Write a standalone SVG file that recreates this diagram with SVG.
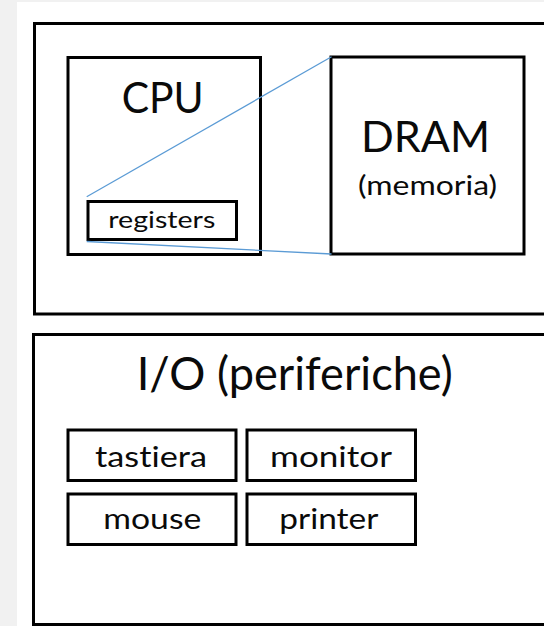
<svg xmlns="http://www.w3.org/2000/svg" width="544" height="626" viewBox="0 0 544 626">
  <style>
    .box { fill: none; stroke: #000; stroke-width: 3; }
    .lbl { font-family: Lato, "Open Sans", "Liberation Sans", sans-serif; fill: #0a0a0a; font-variant-ligatures: none; font-feature-settings: "liga" 0, "clig" 0; }
    .link { stroke: #5b9bd5; stroke-width: 1.3; fill: none; }
  </style>
  <!-- page background -->
  <rect x="0" y="0" width="544" height="626" fill="#f1f1f1"/>
  <rect x="17" y="2" width="527" height="624" fill="#fff"/>

  <!-- computer core: CPU and memory -->
  <g id="core">
    <rect class="box" x="34.5" y="23.5" width="530" height="290.5"/>
  </g>
  <g id="cpu">
    <rect class="box" x="68" y="57.5" width="192.5" height="197"/>
    <text class="lbl" x="121.7" y="113.3" font-size="42" textLength="82" lengthAdjust="spacingAndGlyphs">CPU</text>
  </g>
  <g id="registers">
    <rect class="box" x="88" y="201.5" width="148.5" height="38"/>
    <text class="lbl" x="108.3" y="228" font-size="24" textLength="107" lengthAdjust="spacingAndGlyphs">registers</text>
  </g>
  <g id="dram">
    <rect class="box" x="331" y="57" width="193" height="197"/>
    <text class="lbl" x="361" y="151.7" font-size="42" textLength="129" lengthAdjust="spacingAndGlyphs">DRAM</text>
    <text class="lbl" x="358" y="195" font-size="27" textLength="139" lengthAdjust="spacingAndGlyphs">(memoria)</text>
  </g>

  <!-- peripherals -->
  <g id="io">
    <rect class="box" x="33.5" y="334.5" width="530" height="290"/>
    <text class="lbl" x="136.7" y="390" font-size="46" textLength="316" lengthAdjust="spacingAndGlyphs">I/O (periferiche)</text>
  </g>
  <g id="tastiera">
    <rect class="box" x="68" y="430" width="168" height="50.5"/>
    <text class="lbl" x="95" y="466.7" font-size="28" textLength="112" lengthAdjust="spacingAndGlyphs">tastiera</text>
  </g>
  <g id="monitor">
    <rect class="box" x="247" y="430" width="168.5" height="50.5"/>
    <text class="lbl" x="270" y="466.7" font-size="28" textLength="122" lengthAdjust="spacingAndGlyphs">monitor</text>
  </g>
  <g id="mouse">
    <rect class="box" x="68" y="494" width="168" height="50.5"/>
    <text class="lbl" x="103.3" y="528.7" font-size="28" textLength="98" lengthAdjust="spacingAndGlyphs">mouse</text>
  </g>
  <g id="printer">
    <rect class="box" x="247" y="494" width="168.5" height="50.5"/>
    <text class="lbl" x="279.3" y="528.7" font-size="28" textLength="99" lengthAdjust="spacingAndGlyphs">printer</text>
  </g>

  <!-- zoom lines from the registers to the memory -->
  <g id="connectors">
    <line class="link" x1="86.7" y1="196.7" x2="331.5" y2="56.7"/>
    <line class="link" x1="86.7" y1="241.5" x2="331.5" y2="254"/>
  </g>
</svg>
